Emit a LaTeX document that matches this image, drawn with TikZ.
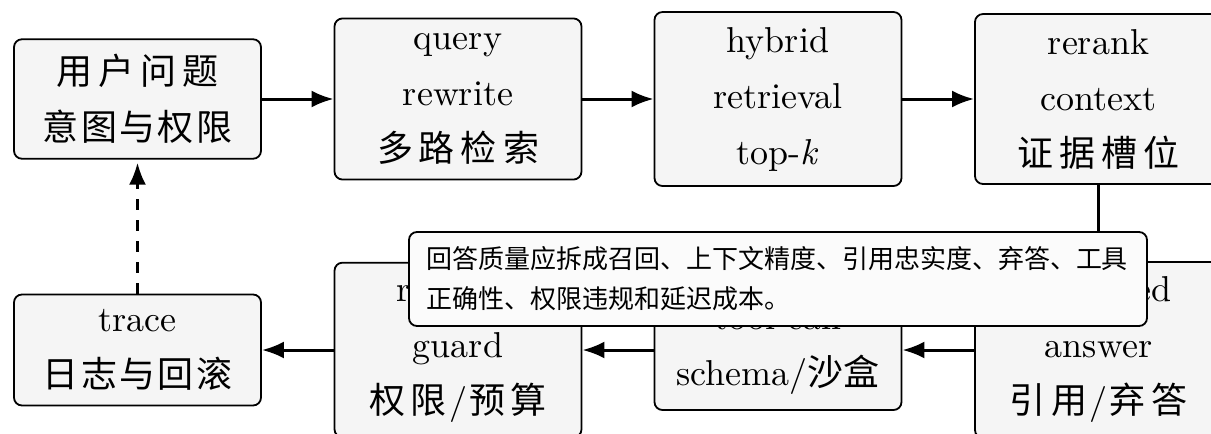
\documentclass[tikz,border=0pt]{standalone}
\usepackage{fontspec}
% Latin text in the 10pt design size of Latin Modern, scaled up
\setmainfont{lmroman10-regular}[Extension=.otf, ItalicFont=lmroman10-italic, BoldFont=lmroman10-bold]
\newfontfamily\cjk{Noto Sans CJK SC}
\usetikzlibrary{arrows.meta}
% spacing between CJK characters inside the stage boxes
\newcommand\cjkgap{\hspace{3pt}}
\newcommand\cjkgapsm{\hspace{1.2pt}}
\definecolor{boxfill}{HTML}{F5F5F5}
\definecolor{notefill}{HTML}{FBFBFB}
\begin{document}
\begin{tikzpicture}[x=0.5pt,y=-0.5pt,
  stage/.style={draw=black, line width=0.9pt, fill=boxfill, rounded corners=4pt,
    minimum width=123.5pt, align=center, inner xsep=4pt, inner ysep=7.5pt,
    font=\fontsize{18}{28}\selectfont},
  tall/.style={minimum height=87pt},
  flow/.style={line width=1.5pt, -{Latex[length=11pt,width=8.5pt]}},
  note/.style={draw=black, line width=0.9pt, fill=notefill, rounded corners=4pt,
    minimum width=369pt, minimum height=47pt, text width=352pt, inner xsep=8.5pt,
    align=left, font=\fontsize{13}{20}\selectfont\cjk}]
\useasboundingbox (0,0) rectangle (1211,434);
\clip (0,0) rectangle (1211,434);

% upper row: retrieval pipeline
\node[stage] (ask) at (137.5,99)
  {{\cjk 用\cjkgap 户\cjkgap 问\cjkgap 题}\\{\cjk 意\cjkgapsm 图\cjkgapsm 与\cjkgapsm 权\cjkgapsm 限}};
\node[stage] (rw) at (458,99)
  {query\\rewrite\\{\cjk 多\cjkgap 路\cjkgap 检\cjkgap 索}};
\node[stage] (hyb) at (778,99)
  {hybrid\\retrieval\\top-\textit{k}};
\node[stage] (rr) at (1098.5,99)
  {rerank\\context\\{\cjk 证\cjkgap 据\cjkgap 槽\cjkgap 位}};

% lower row: answer, tools, guard, trace
\node[stage] (trace) at (137.5,350)
  {trace\\{\cjk 日\cjkgapsm 志\cjkgapsm 与\cjkgapsm 回\cjkgapsm 滚}};
\node[stage, tall] (guard) at (458,350)
  {runtime\\guard\\{\cjk 权\cjkgap 限}\hspace{1pt}/\hspace{1pt}{\cjk 预\cjkgap 算}};
\node[stage] (tool) at (778,350)
  {tool call\\schema/{\cjk 沙盒}};
\node[stage, tall] (ans) at (1098.5,350)
  {grounded\\answer\\{\cjk 引\cjkgap 用}\hspace{1pt}/\hspace{1pt}{\cjk 弃\cjkgap 答}};

% connectors
\draw[flow] (ask) -- (rw);
\draw[flow] (rw) -- (hyb);
\draw[flow] (hyb) -- (rr);
\draw[flow] (rr) -- (ans);
\draw[flow] (ans) -- (tool);
\draw[flow] (tool) -- (guard);
\draw[flow] (guard) -- (trace);
\draw[flow, dash pattern=on 5.5pt off 5pt, shorten >=1.5pt] (trace) -- (ask);

% evaluation note laid over the lower row
\node[note] (memo) at (778,279)
  {回答质量应拆成召回、上下文精度、引用忠实度、弃答、工具\\正确性、权限违规和延迟成本。};
\end{tikzpicture}
\end{document}
